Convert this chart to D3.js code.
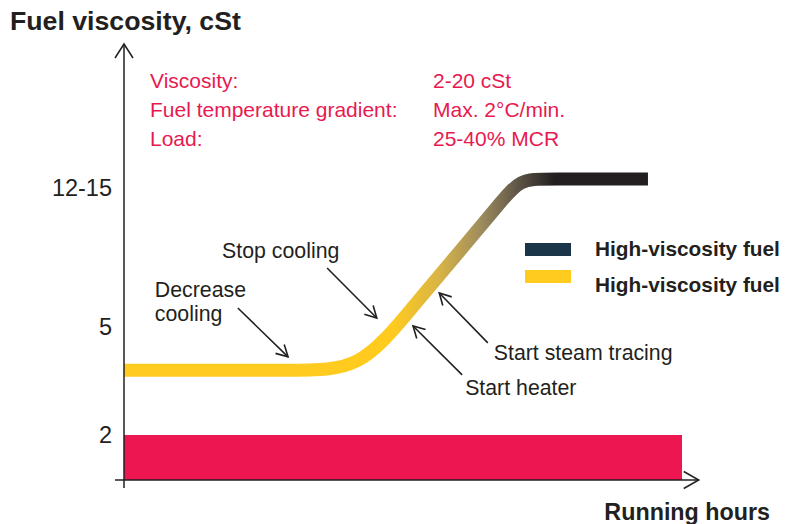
<!DOCTYPE html>
<html>
<head>
<meta charset="utf-8">
<script src="https://cdn.jsdelivr.net/npm/d3@7"></script>
<style>
  html, body { margin: 0; padding: 0; background: #fff; }
  svg { display: block; font-family: "Liberation Sans", Arial, Helvetica, sans-serif; }
</style>
</head>
<body>
<svg id="chart" width="792" height="524"></svg>
<script>
// ---------- DATA ----------
const chartTitle = "Fuel viscosity, cSt";
const xAxisTitle = "Running hours";

// Y tick values (viscosity level) and their labels
const yTickValues = [2, 5, 13];
const yTickLabels = ["2", "5", "12-15"];

// Fuel viscosity curve: running hours vs viscosity (cSt)
const curveHours     = [0, 31.5, 42.3, 51.3, 62.0, 67.4, 71.0, 75.4, 93.9];
const curveViscosity = [3.8, 3.8, 3.8, 5.98, 10.05, 12.12, 13.5, 13.5, 13.5];

// Low limit band (viscosity 0..2) over running hours
const bandHours = [0, 100];
const bandViscosity = 2;

// Operating conditions text
const condLabels = ["Viscosity:", "Fuel temperature gradient:", "Load:"];
const condValues = ["2-20 cSt", "Max. 2°C/min.", "25-40% MCR"];

// Legend
const legendLabels = ["High-viscosity fuel", "High-viscosity fuel"];
const legendColors = ["#1b3548", "#ffcb1f"];

// Annotations: arrow tail/tip in (hours, viscosity)
const annoText  = [["Decrease", "cooling"], ["Stop cooling"], ["Start heater"], ["Start steam tracing"]];
const annoTail  = [[20.4, 6.09], [36.4, 8.39], [60.6, 3.67], [65.2, 4.56]];
const annoTip   = [[29.4, 4.17], [45.3, 5.52], [51.8, 5.06], [56.5, 6.95]];

// ---------- SCALES ----------
const svg = d3.select("#chart");
const x = d3.scaleLinear().domain([0, 100]).range([124, 682]);
const y = d3.scaleLinear().domain([0, 2, 5, 13.5, 20]).range([480, 435, 327, 179, 45]);

const ink = "#231f20";
const pink = "#e8194f";

// ---------- GRADIENT ----------
const defs = svg.append("defs");
const grad = defs.append("linearGradient")
  .attr("id", "fuelGrad")
  .attr("gradientUnits", "userSpaceOnUse")
  .attr("x1", x(0)).attr("y1", 0)
  .attr("x2", x(100)).attr("y2", 0);
[[0, "#ffcb1f"], [0.48, "#ffcb1f"], [0.565, "#d8b445"], [0.64, "#9e8c5e"],
 [0.705, "#5f5648"], [0.77, "#231f20"], [1, "#231f20"]]
  .forEach(([o, c]) => grad.append("stop").attr("offset", o).attr("stop-color", c));

// ---------- BAND ----------
svg.append("rect")
  .attr("x", x(bandHours[0]))
  .attr("y", y(bandViscosity))
  .attr("width", x(bandHours[1]) - x(bandHours[0]))
  .attr("height", y(0) - y(bandViscosity))
  .attr("fill", "#ee1651");

// ---------- CURVE ----------
const curveData = curveHours.map((h, i) => [h, curveViscosity[i]]);
const line = d3.line().x(d => x(d[0])).y(d => y(d[1])).curve(d3.curveBasis);
svg.append("path")
  .attr("d", line(curveData))
  .attr("fill", "none")
  .attr("stroke", "url(#fuelGrad)")
  .attr("stroke-width", 13);

// ---------- AXES ----------
const yAxis = d3.axisLeft(y)
  .tickValues(yTickValues)
  .tickFormat((d, i) => yTickLabels[i])
  .tickSize(0)
  .tickPadding(12);
const gy = svg.append("g").attr("transform", `translate(${x(0)},0)`).call(yAxis);
gy.select(".domain").remove();
gy.selectAll("text")
  .attr("font-size", 23.5)
  .attr("fill", ink)
  .attr("font-family", "Liberation Sans, Arial, sans-serif");

// axis lines with arrows
svg.append("line")
  .attr("x1", x(0)).attr("x2", x(0))
  .attr("y1", y(0) + 8).attr("y2", y(20) - 1)
  .attr("stroke", ink).attr("stroke-width", 1.5);
svg.append("path")
  .attr("d", `M${x(0) - 9},${y(20) + 13} L${x(0)},${y(20) - 1} L${x(0) + 9},${y(20) + 13}`)
  .attr("fill", "none").attr("stroke", ink).attr("stroke-width", 1.5);

const xEnd = x(103);
svg.append("line")
  .attr("x1", x(0) - 9).attr("x2", xEnd)
  .attr("y1", y(0)).attr("y2", y(0))
  .attr("stroke", ink).attr("stroke-width", 1.5);
svg.append("path")
  .attr("d", `M${xEnd - 15},${y(0) - 8.5} L${xEnd},${y(0)} L${xEnd - 15},${y(0) + 8.5}`)
  .attr("fill", "none").attr("stroke", ink).attr("stroke-width", 1.5);

// ---------- TITLES ----------
svg.append("text")
  .attr("x", 10).attr("y", 30)
  .attr("font-size", 26.7).attr("font-weight", "bold").attr("fill", ink)
  .text(chartTitle);
svg.append("text")
  .attr("x", 770).attr("y", 520).attr("text-anchor", "end")
  .attr("font-size", 23.3).attr("font-weight", "bold").attr("fill", ink)
  .text(xAxisTitle);

// ---------- CONDITIONS ----------
const cond = svg.append("g").attr("fill", pink).attr("font-size", 21);
condLabels.forEach((t, i) => {
  cond.append("text").attr("x", 150).attr("y", 88 + i * 29).text(t);
  cond.append("text").attr("x", 433).attr("y", 88 + i * 29).text(condValues[i]);
});

// ---------- LEGEND ----------
const leg = svg.append("g");
legendLabels.forEach((t, i) => {
  leg.append("rect")
    .attr("x", 525).attr("y", 243 + i * 27)
    .attr("width", 46).attr("height", 13)
    .attr("fill", legendColors[i]);
  leg.append("text")
    .attr("x", 595).attr("y", 256 + i * 36)
    .attr("font-size", 20.8).attr("font-weight", "bold").attr("fill", ink)
    .text(t);
});

// ---------- ANNOTATIONS ----------
const labelOffsets = [
  [[-83, -11], [-83, 13]],   // Decrease cooling (relative to tail)
  [[-105, -10]],             // Stop cooling
  [[3, 20]],                 // Start heater
  [[6, 17]]                  // Start steam tracing
];
const anno = svg.append("g");
annoText.forEach((lines, i) => {
  const tx = x(annoTail[i][0]), ty = y(annoTail[i][1]);
  const hx = x(annoTip[i][0]), hy = y(annoTip[i][1]);
  anno.append("line")
    .attr("x1", tx).attr("y1", ty).attr("x2", hx).attr("y2", hy)
    .attr("stroke", ink).attr("stroke-width", 1.6);
  const ang = Math.atan2(hy - ty, hx - tx);
  const L = 13, a = 0.5;
  const p1 = [hx - L * Math.cos(ang - a), hy - L * Math.sin(ang - a)];
  const p2 = [hx - L * Math.cos(ang + a), hy - L * Math.sin(ang + a)];
  anno.append("path")
    .attr("d", `M${p1[0]},${p1[1]} L${hx},${hy} L${p2[0]},${p2[1]}`)
    .attr("fill", "none").attr("stroke", ink).attr("stroke-width", 1.6);
  lines.forEach((t, j) => {
    anno.append("text")
      .attr("x", tx + labelOffsets[i][j][0])
      .attr("y", ty + labelOffsets[i][j][1])
      .attr("font-size", 21.3).attr("fill", ink)
      .text(t);
  });
});
</script>
</body>
</html>
